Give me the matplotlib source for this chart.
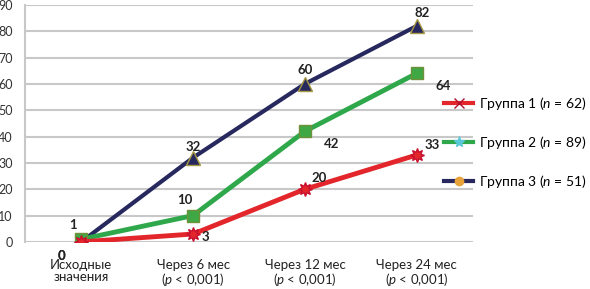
import matplotlib
matplotlib.use("Agg")
import matplotlib.pyplot as plt
from matplotlib.lines import Line2D

plt.rcParams['font.family'] = ['Lato', 'DejaVu Sans']
plt.rcParams['mathtext.fontset'] = 'custom'
plt.rcParams['mathtext.rm'] = 'Lato'
plt.rcParams['mathtext.it'] = 'Lato:italic'

categories = ["Исходные\nзначения",
              "Через 6 мес\n($\\it{p}$ < 0,001)",
              "Через 12 мес\n($\\it{p}$ < 0,001)",
              "Через 24 мес\n($\\it{p}$ < 0,001)"]
group1 = [0, 3, 20, 33]
group2 = [1, 10, 42, 64]
group3 = [0, 32, 60, 82]
legend_labels = ["Группа 1 ($\\it{n}$ = 62)",
                 "Группа 2 ($\\it{n}$ = 89)",
                 "Группа 3 ($\\it{n}$ = 51)"]

red, green, navy = "#e3262b", "#2ea84a", "#27285e"

fig = plt.figure(figsize=(5.9, 2.89), dpi=100)
ax = fig.add_axes([0.043, 0.163, 0.758, 0.82])

x = list(range(len(categories)))

ax.plot(x, group3, color=navy, lw=3, zorder=3,
        marker='^', ms=10, mfc=navy, mec="#a89a45", mew=1)
ax.plot(x, group2, color=green, lw=3.5, zorder=4,
        marker='s', ms=9, mfc="#3fa845", mec="#6f8f3a", mew=1)
ax.plot(x, group1, color=red, lw=3.5, zorder=5,
        marker=(8, 1, 0), ms=10, mfc=red, mec="#c8102e", mew=1)

# data labels (offsets in points)
offsets1 = [(-14, -10), (9, -2), (10, 8), (11, 7)]
offsets2 = [(-6, 10), (-6, 11), (19, -9), (19, -9)]
offsets3 = [(-14, -10), (0, 8), (0, 10), (4, 9)]
for vals, offs in ((group3, offsets3), (group2, offsets2), (group1, offsets1)):
    for xi, v, (dx, dy) in zip(x, vals, offs):
        ax.annotate(str(v), (xi, v), xytext=(dx, dy), textcoords='offset points',
                    ha='center', va='center', fontsize=9.5, fontweight='bold',
                    color="#222222", zorder=6)

ax.set_xlim(-0.5, 3.5)
ax.set_ylim(0, 90)
ax.set_yticks(range(0, 91, 10))
ax.set_xticks(x)
ax.set_xticklabels(categories, fontsize=9.5, color="#222222", linespacing=1.05)
ax.tick_params(axis='y', length=0, pad=9, labelsize=9, labelcolor="#333333")
ax.tick_params(axis='x', length=0, pad=12)
ax.grid(axis='y', color="#c8c8c8", lw=1.5)
ax.set_axisbelow(True)
for s in ('top', 'right', 'bottom'):
    ax.spines[s].set_visible(False)
ax.spines['left'].set_color("#c8c8c8")
ax.spines['left'].set_linewidth(1.5)

handles = [
    Line2D([], [], color=red, lw=3, marker='x', ms=7, mec="#b01030", mew=1),
    Line2D([], [], color=green, lw=3, marker='*', ms=8, mfc="#5bc8d8", mec="#5bc8d8"),
    Line2D([], [], color=navy, lw=3, marker='o', ms=6, mfc="#e8a23a", mec="#e8a23a"),
]
fig.legend(handles, legend_labels, loc='upper left', bbox_to_anchor=(0.7315, 0.715),
           frameon=False, fontsize=10, handlelength=2.1, handletextpad=0.4,
           labelspacing=1.6)

fig.savefig("out.png", dpi=100)
